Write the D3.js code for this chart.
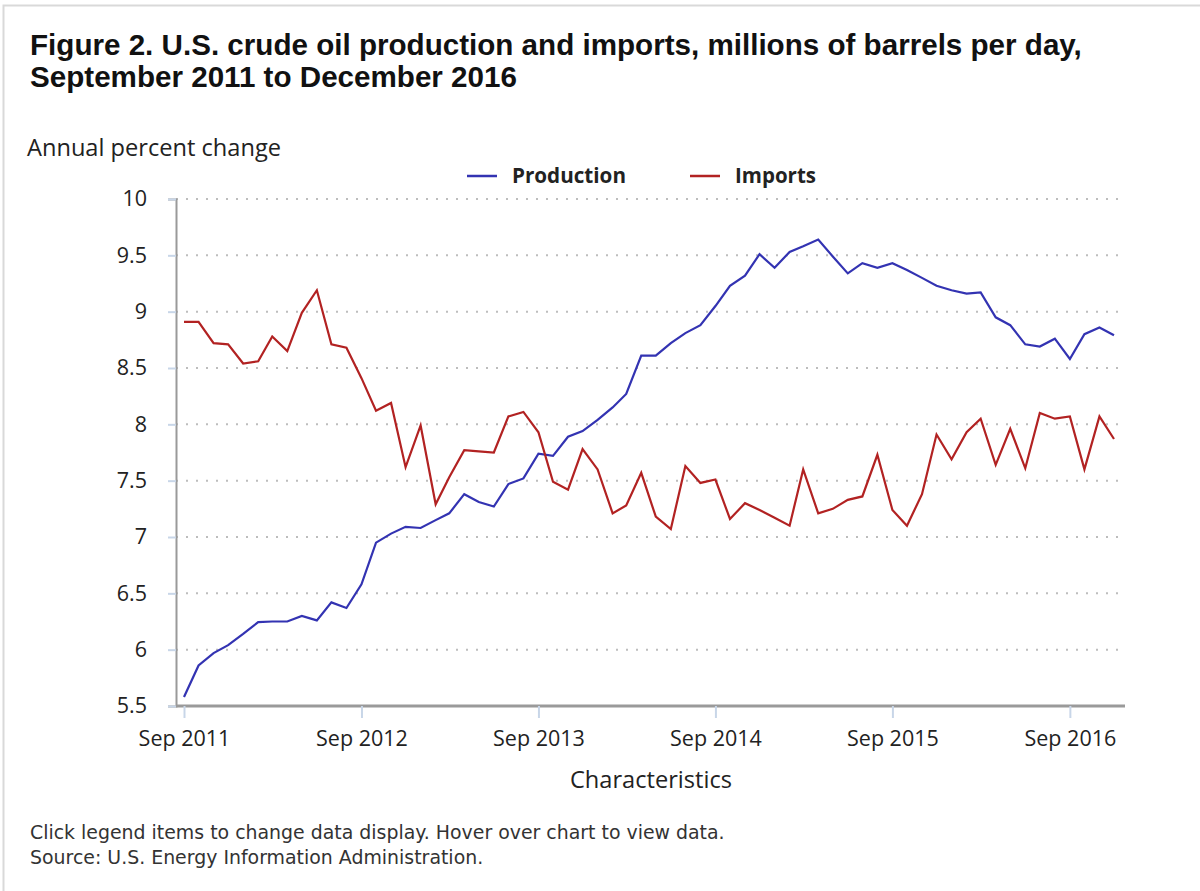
<!DOCTYPE html>
<html><head><meta charset="utf-8">
<script src="https://cdn.jsdelivr.net/npm/d3@7"></script>
<style>
body{margin:0;background:#fff;}
svg{display:block;}
</style></head>
<body>
<svg id="chart" width="1200" height="891"></svg>
<script>
const startYear = 2011, startMonth = 8; // Sep 2011 (0-based month)
const production = [5.58,5.86,5.97,6.04,6.14,6.245,6.25,6.25,6.30,6.26,6.42,6.37,6.58,6.95,7.03,7.09,7.08,7.15,7.21,7.38,7.31,7.27,7.47,7.52,7.74,7.72,7.89,7.94,8.04,8.15,8.27,8.61,8.61,8.72,8.81,8.88,9.05,9.23,9.32,9.51,9.39,9.53,9.58,9.64,9.49,9.34,9.43,9.39,9.43,9.37,9.30,9.23,9.19,9.16,9.17,8.95,8.88,8.71,8.69,8.76,8.58,8.80,8.86,8.79];
const imports = [8.91,8.91,8.72,8.71,8.54,8.56,8.78,8.65,8.99,9.19,8.71,8.68,8.41,8.12,8.19,7.62,7.99,7.29,7.53,7.77,7.76,7.75,8.07,8.11,7.93,7.49,7.42,7.78,7.60,7.21,7.28,7.57,7.18,7.07,7.63,7.48,7.51,7.16,7.30,7.24,7.17,7.10,7.60,7.21,7.25,7.33,7.36,7.73,7.24,7.10,7.38,7.91,7.69,7.93,8.05,7.64,7.96,7.61,8.10,8.05,8.07,7.60,8.07,7.87];
const yTicks = [5.5,6,6.5,7,7.5,8,8.5,9,9.5,10];
const yTickLabels = ["5.5","6","6.5","7","7.5","8","8.5","9","9.5","10"];
const xTickLabels = ["Sep 2011","Sep 2012","Sep 2013","Sep 2014","Sep 2015","Sep 2016"];
const seriesNames = ["Production","Imports"];
const seriesColors = ["#3333b2","#b22222"];

const dates = production.map((_, i) => new Date(startYear, startMonth + i, 1));
const xTickDates = xTickLabels.map((_, i) => new Date(startYear + i, 8, 1));

const svg = d3.select("#chart");
const pLeft = 176, pRight = 1125, pTop = 199, pBottom = 706;

// scale a text's font-size so that its rendered width matches a target width
function fitWidth(sel, target) {
  const node = sel.node();
  const fs = parseFloat(sel.attr("font-size"));
  const w = node.getComputedTextLength ? node.getComputedTextLength() : node.getBBox().width;
  if (w > 0) sel.attr("font-size", (fs * target / w).toFixed(2));
  return sel;
}

// outer border
svg.append("rect").attr("x",3.5).attr("y",5.5).attr("width",1200).attr("height",900)
  .attr("fill","none").attr("stroke","#d9d9d9").attr("stroke-width",2);

const x = d3.scaleTime().domain([new Date(2011,8,1), new Date(2016,11,1)]).range([184, 1114]);
const y = d3.scaleLinear().domain([5.5, 10]).range([pBottom, pTop]);

// title
const titleFont = "Liberation Sans, Arial, sans-serif";
const t1 = svg.append("text").attr("x",30).attr("y",55).attr("font-family",titleFont)
  .attr("font-weight","bold").attr("font-size",29.5).attr("fill","#111")
  .text("Figure 2. U.S. crude oil production and imports, millions of barrels per day,");
fitWidth(t1, 1052);
svg.append("text").attr("x",30).attr("y",87).attr("font-family",titleFont)
  .attr("font-weight","bold").attr("font-size",t1.attr("font-size")).attr("fill","#111")
  .text("September 2011 to December 2016");

const uiFont = "Open Sans, Noto Sans, sans-serif";

fitWidth(svg.append("text").attr("x",27).attr("y",156).attr("font-family",uiFont).attr("font-size",23)
  .attr("fill","#222").text("Annual percent change"), 254);

// gridlines
svg.append("g").selectAll("line").data(yTicks.slice(1)).join("line")
  .attr("x1",pLeft).attr("x2",pRight).attr("y1",d=>y(d)).attr("y2",d=>y(d))
  .attr("stroke","#bdbdbd").attr("stroke-width",2).attr("stroke-dasharray","2,8");

// y axis
const yAxis = svg.append("g").attr("transform",`translate(${pLeft},0)`)
  .call(d3.axisLeft(y).tickValues(yTicks).tickFormat((d,i)=>yTickLabels[i]).tickSize(8).tickPadding(21));
yAxis.select(".domain").attr("stroke","#9a9a9a").attr("stroke-width",2);
yAxis.selectAll(".tick line").attr("stroke","#c8d6e8").attr("stroke-width",2);
yAxis.selectAll(".tick text").attr("font-family",uiFont).attr("font-size",21.5).attr("fill","#222");

// x axis
const xAxis = svg.append("g").attr("transform",`translate(0,${pBottom})`)
  .call(d3.axisBottom(x).tickValues(xTickDates).tickFormat((d,i)=>xTickLabels[i]).tickSize(12).tickPadding(13));
xAxis.select(".domain").attr("d",`M${pLeft},0H${pRight}`).attr("stroke","#9a9a9a").attr("stroke-width",3);
xAxis.selectAll(".tick line").attr("stroke","#c8d6e8").attr("stroke-width",2);
xAxis.selectAll(".tick text").attr("font-family",uiFont).attr("font-size",21.5).attr("fill","#222");

fitWidth(svg.append("text").attr("x",651).attr("y",788).attr("text-anchor","middle")
  .attr("font-family",uiFont).attr("font-size",23).attr("fill","#222").text("Characteristics"), 162);

// lines
const line = d3.line().x((d,i)=>x(dates[i])).y(d=>y(d));
[production, imports].forEach((s, k) => {
  svg.append("path").datum(s).attr("d",line).attr("fill","none")
    .attr("stroke",seriesColors[k]).attr("stroke-width",2.2).attr("stroke-linejoin","miter");
});

// legend
const legendX = [467, 690];
const legendW = [114, 81];
seriesNames.forEach((n,k) => {
  svg.append("line").attr("x1",legendX[k]).attr("x2",legendX[k]+30).attr("y1",176).attr("y2",176)
    .attr("stroke",seriesColors[k]).attr("stroke-width",2.5);
  fitWidth(svg.append("text").attr("x",legendX[k]+45).attr("y",183).attr("font-family",uiFont)
    .attr("font-weight","bold").attr("font-size",20).attr("fill","#222").text(n), legendW[k]);
});

// footer
const footFont = "DejaVu Sans, Verdana, sans-serif";
const f1 = svg.append("text").attr("x",30).attr("y",839).attr("font-family",footFont).attr("font-size",16)
  .attr("fill","#333").text("Click legend items to change data display. Hover over chart to view data.");
fitWidth(f1, 695);
svg.append("text").attr("x",30).attr("y",864).attr("font-family",footFont).attr("font-size",f1.attr("font-size"))
  .attr("fill","#333").text("Source: U.S. Energy Information Administration.");
</script>
</body></html>
